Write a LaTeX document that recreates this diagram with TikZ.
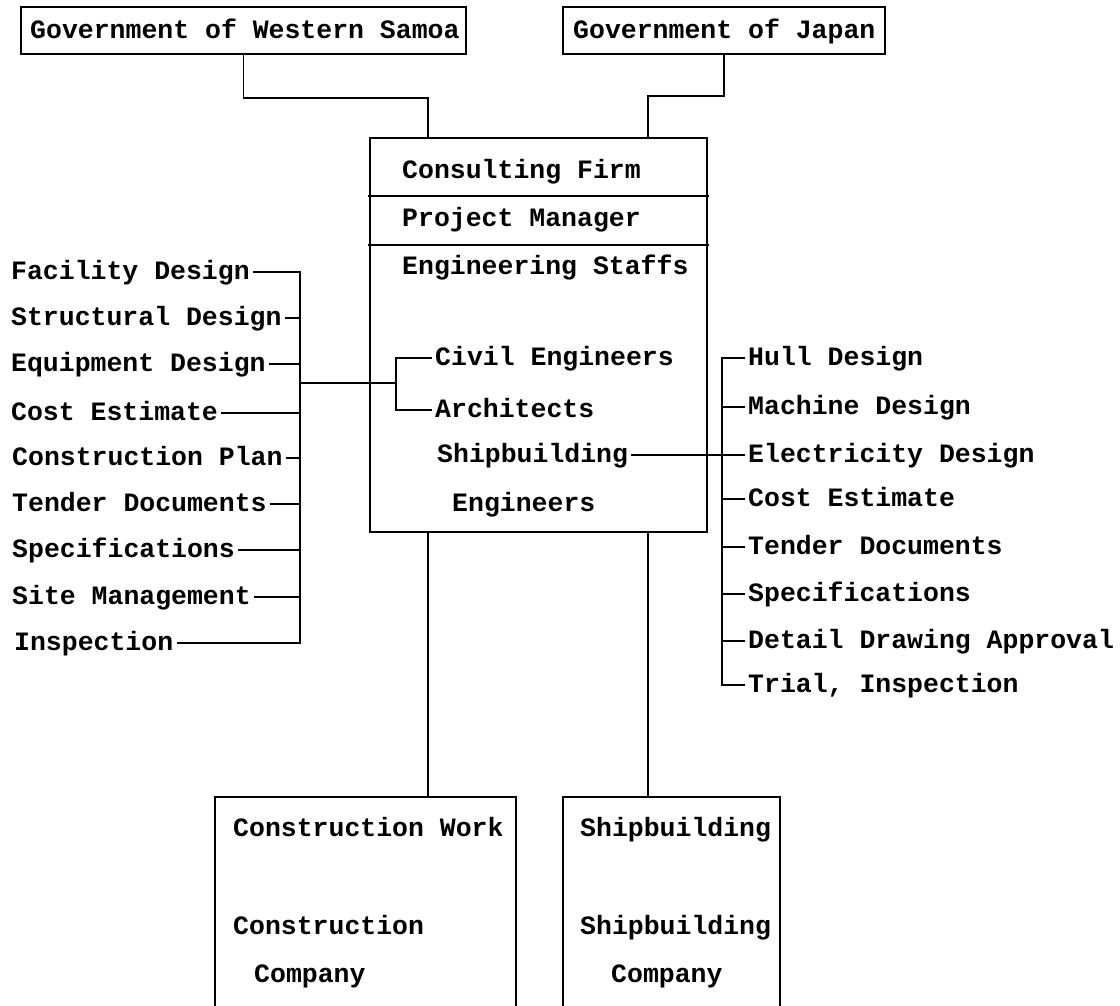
\documentclass[tikz,border=0pt]{standalone}
\usepackage{fontspec}
\setmonofont{Liberation Mono}
\begin{document}
\begin{tikzpicture}[x=1pt,y=-1pt,
  ln/.style={line width=1.8pt, line cap=rect},
  mainfont/.style={font=\ttfamily\bfseries\fontsize{26.5}{30}\selectfont},
  txt/.style={mainfont, anchor=base west, inner xsep=4pt, inner ysep=0pt},
  boxshape/.style={draw, line width=1.8pt, inner sep=0pt}
]
\useasboundingbox (0,0) rectangle (1120,1005);
\fill[white] (0,0) rectangle (1120,1005);

% top boxes
\node[boxshape, minimum width=445pt, minimum height=47pt] (gws) at (243.5,30.5) {};
\node[boxshape, minimum width=322pt, minimum height=47pt] (gj) at (724,30.5) {};
\node[txt] (gwst) at (26,38) {Government of Western Samoa};
\node[txt] (gjt) at (569,38) {Government of Japan};

% consulting firm box
\node[boxshape, minimum width=337pt, minimum height=394pt] (cf) at (538.5,335) {};
\coordinate (d1) at (0,196);
\coordinate (d2) at (0,245);
\draw[ln] (cf.west |- d1) -- (cf.east |- d1);
\draw[ln] (cf.west |- d2) -- (cf.east |- d2);

\node[txt] (cfirm) at (398,178.5) {Consulting Firm};
\node[txt] (pm) at (398,226.5) {Project Manager};
\node[txt] (es) at (398,274) {Engineering Staffs};
\node[txt] (ci) at (431,365.5) {Civil Engineers};
\node[txt] (ar) at (431,417.5) {Architects};
\node[txt] (sb) at (433,462.5) {Shipbuilding};
\node[txt] (en) at (448,511) {Engineers};

% connectors from governments
\coordinate (k1) at (243,98);
\coordinate (k2) at (428,98);
\coordinate (k3) at (724,96);
\coordinate (k4) at (648,96);
\draw[ln] (gws.south) -- (gws.south |- k1) -- (k2) -- (cf.north -| k2);
\draw[ln] (gj.south) -- (gj.south |- k3) -- (k4) -- (cf.north -| k4);

% left list
\node[txt] (fd) at (7,279.5) {Facility Design};
\node[txt] (sd) at (7,325.5) {Structural Design};
\node[txt] (ed) at (7,371.5) {Equipment Design};
\node[txt] (ce) at (7,420.5) {Cost Estimate};
\node[txt] (cp) at (8,465.5) {Construction Plan};
\node[txt] (td) at (8,511.5) {Tender Documents};
\node[txt] (sp) at (8,557.5) {Specifications};
\node[txt] (sm) at (8,604.5) {Site Management};
\node[txt] (ins) at (10,650.5) {Inspection};

\coordinate (L) at (300,0);
\foreach \n in {fd,sd,ed,ce,cp,td,sp,sm,ins} {
  \path ([yshift=7.5pt]\n.base east) coordinate (t\n);
  \draw[ln] (t\n) -- (t\n -| L);
}
\draw[ln] (L |- tfd) -- (L |- tins);

% bracket to civil engineers / architects
\coordinate (B) at (396,0);
\coordinate (J) at (300,383);
\path ([yshift=7.5pt]ci.base west) coordinate (tci);
\path ([yshift=7.5pt]ar.base west) coordinate (tar);
\draw[ln] (tci) -- (B |- tci) -- (B |- tar) -- (tar);
\draw[ln] (J) -- (J -| B);

% right list
\node[txt] (hd) at (744,365.5) {Hull Design};
\node[txt] (md) at (744,414.5) {Machine Design};
\node[txt] (ld) at (744,462.5) {Electricity Design};
\node[txt] (rce) at (744,506.5) {Cost Estimate};
\node[txt] (rtd) at (744,554.5) {Tender Documents};
\node[txt] (rsp) at (744,601.5) {Specifications};
\node[txt] (dda) at (744,648.5) {Detail Drawing Approval};
\node[txt] (tri) at (744,692.5) {Trial, Inspection};

\coordinate (R) at (722,0);
\foreach \n in {hd,md,ld,rce,rtd,rsp,dda,tri} {
  \path ([yshift=7.5pt]\n.base west) coordinate (t\n);
  \draw[ln] (R |- t\n) -- (t\n);
}
\draw[ln] (R |- thd) -- (R |- ttri);
\path ([yshift=7.5pt]sb.base east) coordinate (tsb);
\draw[ln] (tsb) -- (tsb -| R);

% bottom boxes (open at the bottom)
\node[minimum width=301pt, minimum height=210pt, inner sep=0pt] (cw) at (365.5,902) {};
\node[minimum width=217pt, minimum height=210pt, inner sep=0pt] (sw) at (671.5,902) {};
\draw[ln, line cap=butt] (cw.south west) |- (cw.north east) -- (cw.south east);
\draw[ln, line cap=butt] (sw.south west) |- (sw.north east) -- (sw.south east);
\draw[ln] (cf.south -| k2) -- (cw.north -| k2);
\draw[ln] (cf.south -| k4) -- (sw.north -| k4);

\node[txt] (cw1) at (229,836) {Construction Work};
\node[txt] (cw2) at (229,934) {Construction};
\node[txt] (cw3) at (250,982) {Company};
\node[txt] (sw1) at (576,836) {Shipbuilding};
\node[txt] (sw2) at (576,934) {Shipbuilding};
\node[txt] (sw3) at (607,982) {Company};
\end{tikzpicture}
\end{document}
